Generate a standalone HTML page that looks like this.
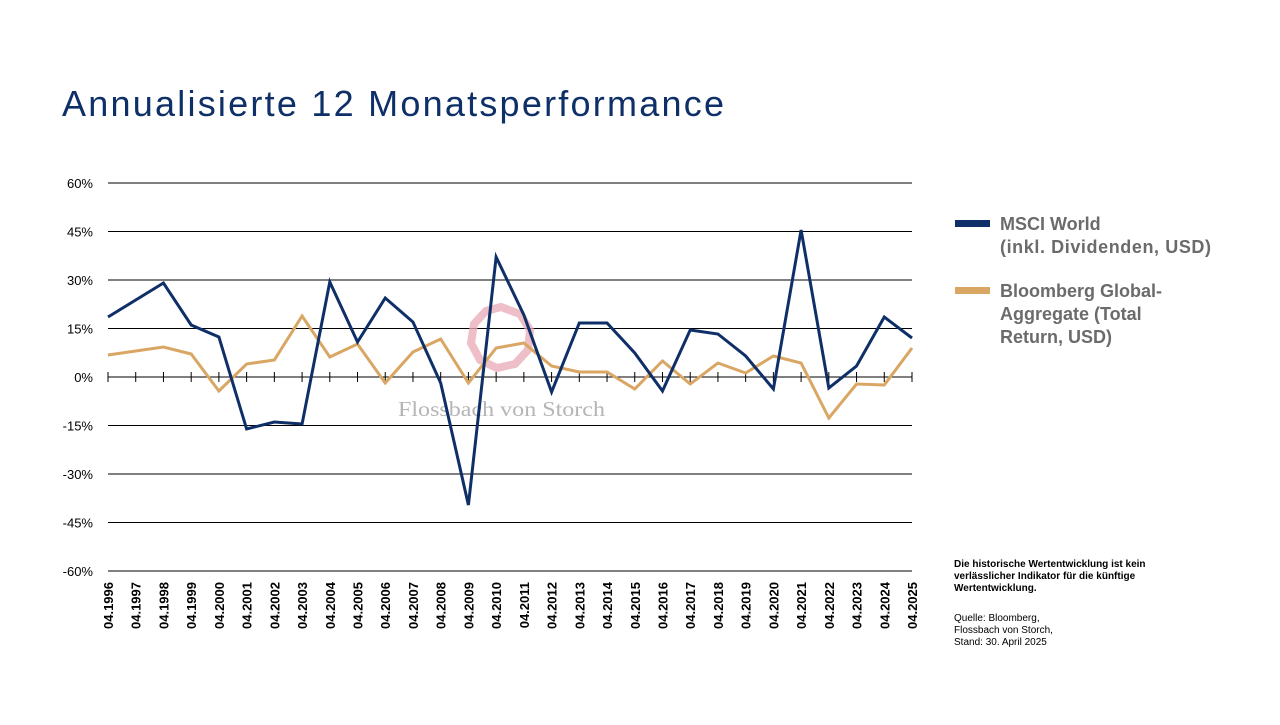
<!DOCTYPE html>
<html><head><meta charset="utf-8"><style>
body{margin:0;background:#fff;width:1280px;height:720px;overflow:hidden;font-family:"Liberation Sans",sans-serif}
</style></head><body>
<svg id="s" width="1280" height="720" xmlns="http://www.w3.org/2000/svg" font-family="Liberation Sans, sans-serif">
<text x="62" y="116" font-size="36" fill="#0e2f67" textLength="662" lengthAdjust="spacing">Annualisierte 12 Monatsperformance</text>
<g id="grid" stroke="#000" stroke-width="1"></g>
<g id="ylab" font-size="13" fill="#000" text-anchor="end"></g>
<g id="xlab" font-size="13" font-weight="bold" fill="#000"></g>
<text x="398" y="416" font-family="Liberation Serif, serif" font-size="21" fill="#b5b5b5" textLength="207" lengthAdjust="spacingAndGlyphs">Flossbach von Storch</text>
<polygon points="501,307 520,314 530,330 528,350 515,364 497,368 480,360 471,343 474,324 486,311" fill="none" stroke="#e8a9b6" stroke-width="8" opacity="0.75"/>
<polyline id="bbg" fill="none" stroke="#d9a663" stroke-width="3" stroke-linejoin="miter"/>
<polyline id="msci" fill="none" stroke="#0e2f67" stroke-width="3" stroke-linejoin="miter"/>
<rect x="955" y="220" width="35" height="7" fill="#0e2f67"/>
<rect x="955" y="287" width="35" height="7" fill="#d9a663"/>
<g font-size="18" font-weight="bold" fill="#6b6b6b">
<text x="1000" y="230">MSCI World</text>
<text x="1000" y="253" textLength="211" lengthAdjust="spacing">(inkl. Dividenden, USD)</text>
<text x="1000" y="297">Bloomberg Global-</text>
<text x="1000" y="320">Aggregate (Total</text>
<text x="1000" y="343">Return, USD)</text>
</g>
<g font-size="10" fill="#000">
<text x="954" y="567" font-weight="bold">Die historische Wertentwicklung ist kein</text>
<text x="954" y="579" font-weight="bold">verlässlicher Indikator für die künftige</text>
<text x="954" y="591" font-weight="bold">Wertentwicklung.</text>
<text x="954" y="621">Quelle: Bloomberg,</text>
<text x="954" y="633">Flossbach von Storch,</text>
<text x="954" y="645">Stand: 30. April 2025</text>
</g>
</svg>
<script>
var NS="http://www.w3.org/2000/svg";
function el(p,t,a,txt){var e=document.createElementNS(NS,t);for(var k in a)e.setAttribute(k,a[k]);if(txt!==undefined)e.textContent=txt;document.getElementById(p).appendChild(e);}
for(var i=0;i<9;i++){var v=60-15*i,y=183+i*48.5;
 el("grid","line",{x1:108,x2:912,y1:y,y2:y});
 el("ylab","text",{x:93,y:y+5},v+"%");}
var m=[317,300,283,325,337,429,422,424,282,342,298,322,383,505,257,315,392,323,323,353,391,330,334,356,389,230,388,366,317,338];
var b=[355,351,347,354,391,364,360,316,357,344,383,352,339,383,348,343,366,372,372,389,361,384,363,373,356,363,418,384,385,348];
var pm=[],pb=[];
for(var i=0;i<30;i++){var x=108+i*(804/29);
 pm.push(x+","+m[i]);pb.push(x+","+b[i]);
 el("grid","line",{x1:x,x2:x,y1:372,y2:382});
 el("xlab","text",{x:0,y:0,transform:"translate("+(x+5)+",582) rotate(-90)","text-anchor":"end"},"04."+(1996+i));}
document.getElementById("msci").setAttribute("points",pm.join(" "));
document.getElementById("bbg").setAttribute("points",pb.join(" "));
</script>
</body></html>
